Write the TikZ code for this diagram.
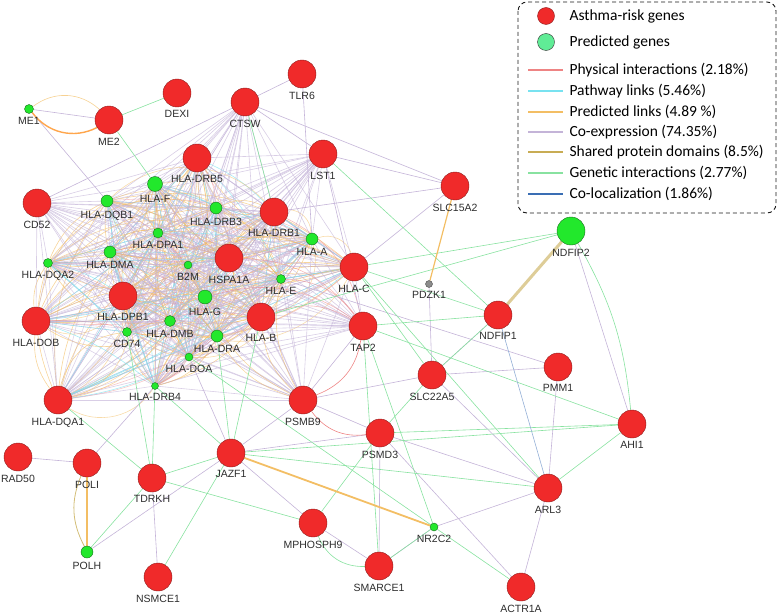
\documentclass[tikz,border=0pt]{standalone}
\usepackage{fontspec}
\setmainfont{Liberation Sans}
\newfontfamily\legendfont{Carlito}
\usetikzlibrary{backgrounds}
\definecolor{riskred}{RGB}{240, 42, 42}
\definecolor{riskedge}{RGB}{140, 30, 30}
\definecolor{predgreen}{RGB}{34, 232, 44}
\definecolor{prededge}{RGB}{25, 110, 30}
\definecolor{mintgreen}{RGB}{96, 236, 150}
\definecolor{pdzgrey}{RGB}{140, 140, 140}
\definecolor{labelgrey}{RGB}{45, 45, 45}
\definecolor{physcol}{RGB}{238, 132, 132}
\definecolor{pathcol}{RGB}{120, 226, 240}
\definecolor{predcol}{RGB}{243, 190, 100}
\definecolor{coexpcol}{RGB}{196, 180, 216}
\definecolor{domcol}{RGB}{200, 172, 84}
\definecolor{genecol}{RGB}{136, 226, 160}
\definecolor{coloccol}{RGB}{58, 110, 180}
\newcommand{\genefont}{\fontsize{10.5}{12}\selectfont}
\newcommand{\coregenes}{drb5,dqb1,hlaf,drb3,drb1,dpa1,hlaa,dma,dqa2,btwom,hspa,hlae,hlac,hlag,dpb1,dob,dmb,cd74,dra,hlab,doa,drb4,dqa1}
\tikzstyle{risk} = [circle, draw=riskedge, fill=riskred, minimum size=28pt, inner sep=0pt, line width=0.4pt]
\tikzstyle{pred} = [circle, draw=prededge, fill=predgreen, inner sep=0pt, line width=0.4pt]
\tikzstyle{coexp} = [draw=coexpcol, line width=0.6pt]
\tikzstyle{genetic} = [draw=genecol, line width=0.6pt]
\tikzstyle{predlink} = [draw=predcol, line width=0.6pt]
\tikzstyle{physlink} = [draw=physcol, line width=0.6pt]
\tikzstyle{pathlink} = [draw=pathcol, line width=0.6pt]
\tikzstyle{domlink} = [draw=domcol!80, line width=0.8pt]
\tikzstyle{colink} = [draw=coloccol!55, line width=0.6pt]

\begin{document}
\begin{tikzpicture}[x=1pt, y=-1pt, every label/.style={font=\genefont, text=labelgrey}]
    \useasboundingbox (0,0) rectangle (778,615);

    % Asthma-risk genes
    \node[risk, label=below:TLR6] (tlr6) at (302,74) {};
    \node[risk, label=below:DEXI] (dexi) at (177,93) {};
    \node[risk, label=below:CTSW] (ctsw) at (245,102) {};
    \node[risk, label=below:ME2] (me2) at (109,120) {};
    \node[risk, label=below:HLA-DRB5] (drb5) at (197,158) {};
    \node[risk, label=below:LST1] (lst1) at (323,154) {};
    \node[risk, label=below:SLC15A2] (slc15a2) at (455,186) {};
    \node[risk, label=below:CD52] (cd52) at (37,203) {};
    \node[risk, label=below:HLA-DRB1] (drb1) at (274,212) {};
    \node[risk, label=below:HSPA1A] (hspa) at (229,258) {};
    \node[risk, label=below:HLA-C] (hlac) at (354,267) {};
    \node[risk, label=below:HLA-DPB1] (dpb1) at (123,296) {};
    \node[risk, label=below:HLA-DOB] (dob) at (36,321) {};
    \node[risk, label=below:HLA-B] (hlab) at (261,317) {};
    \node[risk, label=below:TAP2] (tap2) at (363,326) {};
    \node[risk, label=below:NDFIP1] (ndfip1) at (498,315) {};
    \node[risk, label=below:HLA-DQA1] (dqa1) at (58,400) {};
    \node[risk, label=below:PSMB9] (psmb9) at (303,400) {};
    \node[risk, label=below:SLC22A5] (slc22a5) at (432,375) {};
    \node[risk, label=below:PMM1] (pmm1) at (558,367) {};
    \node[risk, label=below:AHI1] (ahi1) at (632,424) {};
    \node[risk, label=below:PSMD3] (psmd3) at (380,433) {};
    \node[risk, label=below:RAD50] (rad50) at (18,457) {};
    \node[risk, label=below:POLI] (poli) at (87,463) {};
    \node[risk, label=below:JAZF1] (jazf1) at (231,453) {};
    \node[risk, label=below:TDRKH] (tdrkh) at (152,478) {};
    \node[risk, label=below:ARL3] (arl3) at (548,488) {};
    \node[risk, label=below:MPHOSPH9] (mphosph9) at (313,523) {};
    \node[risk, label=below:SMARCE1] (smarce1) at (379,566) {};
    \node[risk, label=below:NSMCE1] (nsmce1) at (158,577) {};
    \node[risk, label=below:ACTR1A] (actr1a) at (521,587) {};

    % Predicted genes
    \node[pred, minimum size=9pt, label=below:ME1] (me1) at (29,109) {};
    \node[pred, minimum size=15pt, label=below:HLA-F] (hlaf) at (155,184) {};
    \node[pred, minimum size=12pt, label=below:HLA-DQB1] (dqb1) at (107,201) {};
    \node[pred, minimum size=12pt, label=below:HLA-DRB3] (drb3) at (216,208) {};
    \node[pred, minimum size=10pt, label=below:HLA-DPA1] (dpa1) at (158,233) {};
    \node[pred, minimum size=12pt, label=below:HLA-A] (hlaa) at (312,239) {};
    \node[pred, minimum size=12pt, label=below:HLA-DMA] (dma) at (110,252) {};
    \node[pred, minimum size=9pt, label=below:HLA-DQA2] (dqa2) at (48,263) {};
    \node[pred, minimum size=8pt, label=below:B2M] (btwom) at (188,265) {};
    \node[pred, minimum size=9pt, label=below:HLA-E] (hlae) at (281,279) {};
    \node[pred, minimum size=14pt, label=below:HLA-G] (hlag) at (205,297) {};
    \node[pred, minimum size=11pt, label=below:HLA-DMB] (dmb) at (170,321) {};
    \node[pred, minimum size=9pt, label=below:CD74] (cd74) at (127,332) {};
    \node[pred, minimum size=12pt, label=below:HLA-DRA] (dra) at (217,336) {};
    \node[pred, minimum size=8pt, label=below:HLA-DOA] (doa) at (189,357) {};
    \node[pred, minimum size=7pt, label=below:HLA-DRB4] (drb4) at (155,386) {};
    \node[pred, minimum size=28pt, label=below:NDFIP2] (ndfip2) at (571,231) {};
    \node[pred, minimum size=12pt, label=below:POLH] (polh) at (87,552) {};
    \node[pred, minimum size=8pt, label=below:NR2C2] (nr2c2) at (434,527) {};
    \node[pred, fill=pdzgrey, draw=gray!60!black, minimum size=7pt, label=below:PDZK1] (pdzk1) at (429,284) {};

    \begin{pgfonlayer}{background}
        % Core HLA cluster
        \foreach \a [count=\i] in \coregenes {
            \foreach \b [count=\j] in \coregenes {
                \ifnum\j>\i\relax
                    \draw[coexp, opacity=0.6] (\a) -- (\b);
                    \pgfmathtruncatemacro{\k}{mod(5*\i+3*\j,7)}
                    \ifcase\k
                        \draw[predlink, opacity=0.65] (\a) to[bend left=25] (\b);
                    \or \draw[pathlink, opacity=0.65] (\a) -- (\b);
                    \or \draw[predlink, opacity=0.65] (\a) to[bend right=20] (\b);
                    \or \draw[physlink, opacity=0.45] (\a) to[bend left=15] (\b);
                    \or \draw[predlink, opacity=0.55] (\a) to[bend left=45] (\b);
                    \or \draw[predlink, opacity=0.65] (\a) to[bend right=35] (\b);
                    \or \draw[pathlink, opacity=0.65] (\a) to[bend left=10] (\b);
                    \fi
                \fi
            }
        }

        % Hubs around the cluster
        \foreach \h in {ctsw,lst1,cd52,psmb9,tap2}
            \foreach \b in \coregenes
                \draw[coexp, opacity=0.65] (\h) -- (\b);
        \foreach \b in {hlab,hlae,hspa,drb1,hlag}
            \draw[physlink, opacity=0.55] (tap2) to[bend right=25] (\b);
        \foreach \b in {hlab,dra,hlag,hlae}
            \draw[predlink, opacity=0.6] (psmb9) to[bend left=20] (\b);

        % Co-expression
        \foreach \a/\b in {me1/me2, me1/dqb1, tlr6/ctsw, tlr6/hlaa, ctsw/cd52, ctsw/lst1,
            ctsw/slc15a2, lst1/slc15a2, slc15a2/drb1, slc15a2/hlac, lst1/tap2, psmb9/tap2,
            psmb9/psmd3, psmb9/slc22a5, psmb9/jazf1, hlae/pmm1, pdzk1/slc22a5, slc22a5/pmm1,
            slc22a5/arl3, ndfip1/slc22a5, pmm1/arl3, psmd3/arl3, psmd3/actr1a, psmd3/smarce1,
            arl3/nr2c2, arl3/actr1a, smarce1/nr2c2, ndfip2/ahi1, mphosph9/smarce1,
            mphosph9/jazf1, jazf1/polh, jazf1/psmd3, jazf1/doa, tdrkh/nsmce1, poli/rad50, poli/drb4}
            \draw[coexp] (\a) -- (\b);

        % Genetic interactions
        \foreach \a/\b in {me2/dexi, me2/hlaf, ctsw/drb1, lst1/ndfip1, hlac/ndfip1, hlac/ndfip2,
            hlab/ndfip2, hlac/slc22a5, hlac/arl3, tap2/ndfip1, tap2/ahi1, tap2/smarce1, tap2/nr2c2,
            psmd3/ahi1, psmd3/mphosph9, psmd3/slc22a5, ndfip1/slc22a5, jazf1/arl3, jazf1/ahi1,
            ahi1/arl3, nr2c2/actr1a, nr2c2/smarce1, jazf1/tdrkh, jazf1/nsmce1, jazf1/hlab,
            jazf1/drb4, jazf1/dra, tdrkh/mphosph9, tdrkh/polh, tdrkh/drb4, tdrkh/cd74,
            dqa1/tdrkh, doa/nr2c2}
            \draw[genetic] (\a) -- (\b);
        \draw[genetic] (ndfip2) to[bend left=12] (ahi1);
        \draw[genetic] (mphosph9) to[bend right=35] (smarce1);

        % Other links
        \draw[physlink] (psmb9) to[bend right=30] (psmd3);
        \draw[physlink] (tap2) to[bend left=30] (psmb9);
        \draw[predlink, opacity=0.7] (me1) to[bend left=40] (me2);
        \draw[predlink, draw=orange!70, line width=1.4pt] (me1) to[bend right=40] (me2);
        \draw[predlink, line width=1.2pt] (slc15a2) -- (pdzk1);
        \draw[predlink, line width=1.8pt] (jazf1) -- (nr2c2);
        \draw[predlink, line width=1.2pt] (poli) -- (polh);
        \draw[domlink] (poli) to[bend right=25] (polh);
        \draw[domlink, line width=3pt, draw=domcol!60] (ndfip2) -- (ndfip1);
        \draw[colink] (ndfip1) -- (arl3);
    \end{pgfonlayer}

    % Legend
    \draw[gray!20!black, line width=0.9pt, dash pattern=on 4pt off 3pt, rounded corners=9pt] (518,2) rectangle (776,213);
    \node[risk, minimum size=17pt] (keyrisk) at (546,16) {};
    \node[circle, draw=black!80, fill=mintgreen, minimum size=17pt, inner sep=0pt] (keypred) at (546,42) {};
    \node[anchor=west, font=\legendfont\fontsize{15.5}{17}\selectfont] (keyrisktxt) at (566,16) {Asthma-risk genes};
    \node[anchor=west, font=\legendfont\fontsize{15.5}{17}\selectfont] (keypredtxt) at (566,42) {Predicted genes};
    \foreach \ky/\kc/\kt [count=\n] in {70/physcol/Physical interactions (2.18\%),
        91/pathcol/Pathway links (5.46\%), 112/predcol/Predicted links (4.89 \%),
        132/coexpcol/Co-expression (74.35\%), 152/domcol/Shared protein domains (8.5\%),
        173/genecol/Genetic interactions (2.77\%), 194/coloccol/Co-localization (1.86\%)} {
        \draw[\kc, line width=2.5pt] (528,\ky) -- (563,\ky);
        \node[anchor=west, font=\legendfont\fontsize{15.5}{17}\selectfont] (key\n) at (566,\ky) {\kt};
    }
\end{tikzpicture}
\end{document}
